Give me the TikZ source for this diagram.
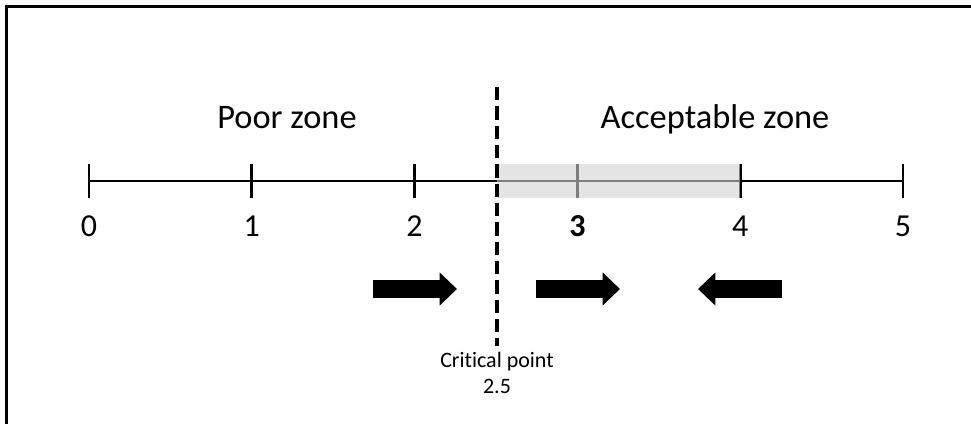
\documentclass[tikz,border=0pt]{standalone}
\usepackage{fontspec}
\setmainfont{Carlito}[Ligatures=NoCommon]
\usetikzlibrary{arrows.meta}
\newcommand{\gap}{162.8}

\begin{document}
\begin{tikzpicture}[x=.75pt,y=-.75pt,
        axis/.style={line width=2.2pt},
        zone/.style={anchor=base, font=\fontsize{25.8}{30}\selectfont},
        num/.style={anchor=base, font=\fontsize{24}{28}\selectfont},
        push/.style={line width=13.5pt, -{Triangle[length=13pt,width=24pt]}}]

        \useasboundingbox (0,0) rectangle (971,424);
        % frame
        \draw[line width=1.6pt] (971,6.5) -- (6.5,6.5) -- (6.5,424);

        % scale 0..5
        \foreach \n in {0,...,5}
            \coordinate (t\n) at (89+\gap*\n,181);
        \draw[axis] (t0) -- (t5);
        \foreach \n in {0,...,5}
            \draw[axis] (t\n) ++(0,-17) -- ++(0,34);
        \foreach \n in {0,1,2,4,5}
            \node[num] (n\n) at (89+\gap*\n,236) {\n};
        \node[num, font=\fontsize{24}{28}\selectfont\bfseries] (n3) at (89+\gap*3,236) {3};

        % acceptable band
        \fill[gray!35, opacity=.6] (497,164) rectangle (740,198);

        % zones
        \node[zone] (poor) at (287,129) {Poor zone};
        \node[zone] (ok) at (715,129) {Acceptable zone};

        % critical point
        \coordinate (ctop) at (497,87);
        \node[align=center, anchor=base, inner sep=1pt, font=\fontsize{16.5}{19.5}\selectfont] (crit) at (497,393) {Critical point\\2.5};
        \draw[line width=2.3pt, dash pattern=on 10pt off 4.5pt, shorten >=3pt] (ctop) -- (crit.north);

        % arrows
        \coordinate (a1) at (373,289); \coordinate (b1) at (457,289);
        \coordinate (a2) at (536,289); \coordinate (b2) at (620,289);
        \coordinate (a3) at (782,289); \coordinate (b3) at (698,289);
        \foreach \k in {1,2,3}
            \draw[push] (a\k) -- (b\k);

\end{tikzpicture}
\end{document}
